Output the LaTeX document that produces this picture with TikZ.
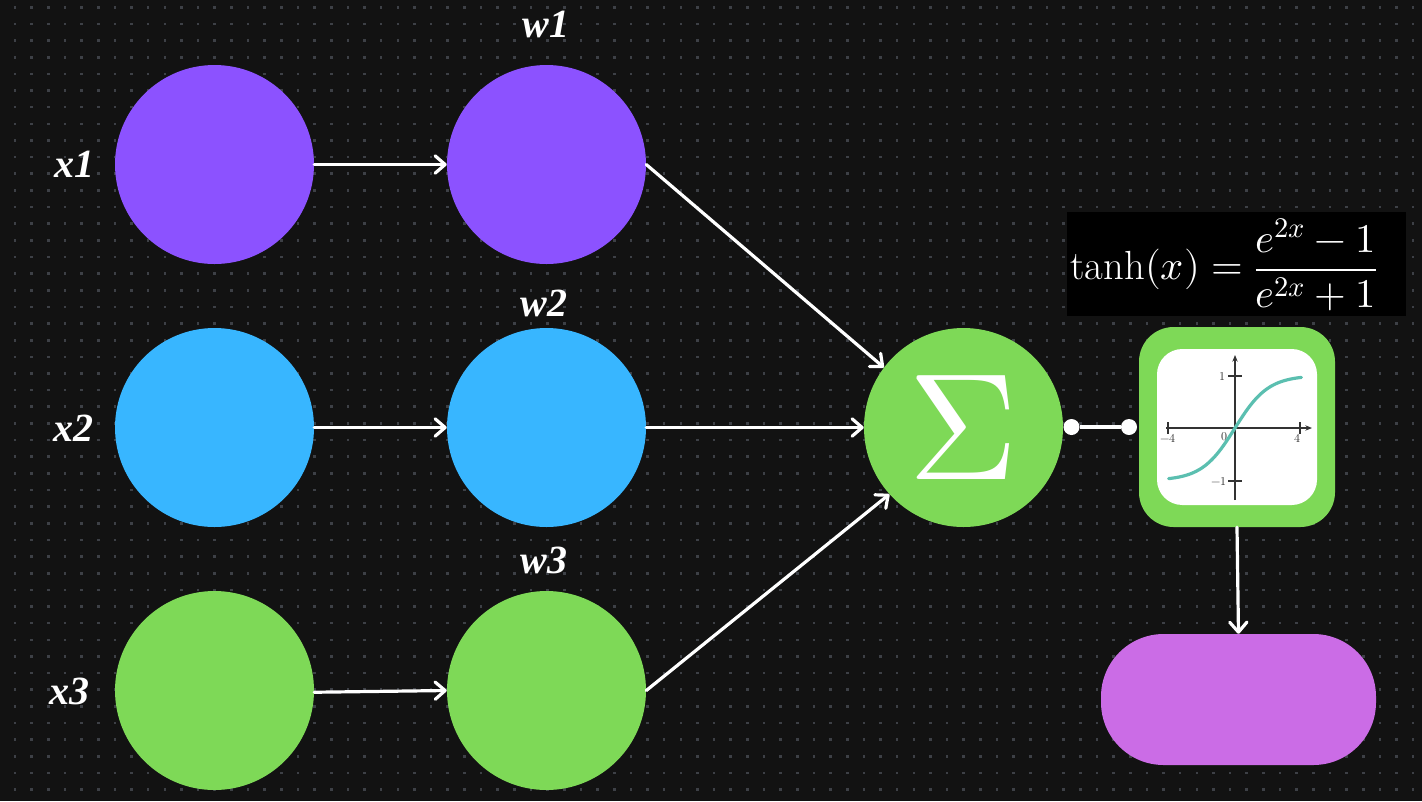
\documentclass[tikz,border=0pt]{standalone}
\usepackage{fontspec}
\usepackage{unicode-math}
\newfontfamily\lblfont{Liberation Serif}
\usetikzlibrary{arrows.meta}
\definecolor{bg}{HTML}{121212}
\definecolor{dotc}{HTML}{3D4046}
\definecolor{cpurple}{HTML}{8C52FF}
\definecolor{cblue}{HTML}{38B6FF}
\definecolor{cgreen}{HTML}{7ED957}
\definecolor{cpink}{HTML}{CB6CE6}
\definecolor{cteal}{HTML}{5BBFB0}
\definecolor{caxis}{HTML}{333333}
\begin{document}
\begin{tikzpicture}[x=0.75pt,y=-0.75pt,
  neuron/.style={circle, minimum size=149.25pt, inner sep=0pt},
  lbl/.style={text=white, font=\lblfont\bfseries\itshape\fontsize{30}{32}\selectfont, anchor=base},
  link/.style={draw=white, line width=2.4pt, line cap=round,
    -{Straight Barb[length=7.5pt,width=13pt,line cap=round,line join=round]}},
  tick/.style={caxis, line width=0.8pt},
  ticklbl/.style={text=caxis, font=\fontsize{9}{9}\selectfont, inner sep=0pt},
  dotend/.style={circle, fill=white, minimum size=12pt, inner sep=0pt},
]
\fill[bg] (0,0) rectangle (1422,801);
\useasboundingbox (0,0) rectangle (1422,801);
\foreach \i in {0,...,85}{
  \foreach \j in {0,...,47}{
    \fill[dotc] ({13.7+16.645*\i},{6+16.645*\j}) rectangle ++(2.6,2.6);
  }
}
% neurons
\node[neuron, fill=cpurple] (x1) at (214.5,164.5) {};
\node[neuron, fill=cpurple] (w1) at (546.5,164.5) {};
\node[neuron, fill=cblue] (x2) at (214.5,427.5) {};
\node[neuron, fill=cblue] (w2) at (546.5,427.5) {};
\node[neuron, fill=cgreen] (x3) at (214.5,690.5) {};
\node[neuron, fill=cgreen] (w3) at (546.5,690.5) {};
\node[neuron, fill=cgreen, text=white, font=\fontsize{114}{114}\selectfont] (sigma) at (963.5,427.5) {$\Sigma$};
% labels
\node[lbl] (lx1) at (74,177) {x1};
\node[lbl] (lx2) at (73,441) {x2};
\node[lbl] (lx3) at (69.5,704) {x3};
\node[lbl] (lw1) at (546,37) {w1};
\node[lbl] (lw2) at (544,316) {w2};
\node[lbl] (lw3) at (544,573) {w3};
% tanh formula
\node[fill=black, minimum width=254.25pt, minimum height=78pt, inner sep=0pt] (tanhbox) at (1236.5,264) {};
\node[text=white, font=\fontsize{30.5}{36}\selectfont, inner sep=0pt] (tanhf) at (1224,265) {$\tanh(x)=\displaystyle\frac{e^{2x}-1}{e^{2x}+1}$};
% activation box
\node[fill=cgreen, rounded corners=26pt, minimum width=147pt, minimum height=150pt, inner sep=0pt] (act) at (1237,427) {};
\node[fill=white, rounded corners=19pt, minimum width=120pt, minimum height=117pt, inner sep=0pt] (plotbg) at (1237,427) {};
\draw[tick, -{Stealth[length=5pt,width=4pt]}] (1166,428) -- (1312,428);
\draw[tick, -{Stealth[length=5pt,width=4pt]}] (1235,500) -- (1235,355);
\draw[tick] (1168,422) -- (1168,434);
\draw[tick] (1300,422) -- (1300,434);
\draw[tick] (1228,376) -- (1242,376);
\draw[tick] (1228,481) -- (1242,481);
\node[ticklbl] (t1) at (1222,376) {$1$};
\node[ticklbl] (tm1) at (1219,481) {$-1$};
\node[ticklbl] (t0) at (1224,437) {$0$};
\node[ticklbl] (tm4) at (1168,438) {$-4$};
\node[ticklbl] (t4) at (1297,438) {$4$};
\draw[cteal, line width=2.4pt, line cap=round] plot[domain=-4:4, samples=80, smooth, variable=\t] ({1235+16.6*\t},{428-52.5*tanh(\t/2)});
% output pill
\node[fill=cpink, rounded corners=47pt, minimum width=206.25pt, minimum height=98.25pt, inner sep=0pt] (pill) at (1238.5,699.5) {};
% connectors
\draw[link] (x1) -- (w1);
\draw[link] (x2) -- (w2);
\draw[link] (x3.-1) -- (w3.west);
\draw[link] (w1.east) -- (sigma.143);
\draw[link] (w2) -- (sigma);
\draw[link] (w3.east) -- (sigma.222);
\node[dotend] (dA) at (1071.5,427) {};
\node[dotend] (dB) at (1129,427) {};
\draw[white, line width=2.4pt] (dA) -- (dB);
\draw[link] (act.south) -- (pill.north);
\end{tikzpicture}
\end{document}
